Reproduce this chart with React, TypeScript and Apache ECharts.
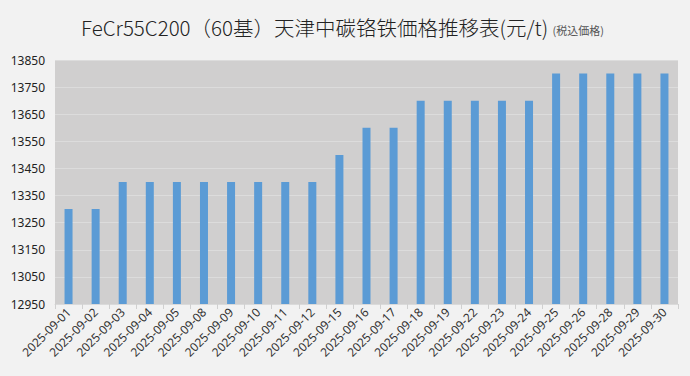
import React, { useEffect, useRef } from "react";
import * as echarts from "echarts";

const categories = [
  "2025-09-01", "2025-09-02", "2025-09-03", "2025-09-04", "2025-09-05",
  "2025-09-08", "2025-09-09", "2025-09-10", "2025-09-11", "2025-09-12",
  "2025-09-15", "2025-09-16", "2025-09-17", "2025-09-18", "2025-09-19",
  "2025-09-22", "2025-09-23", "2025-09-24", "2025-09-25", "2025-09-26",
  "2025-09-28", "2025-09-29", "2025-09-30",
];
const prices = [
  13300, 13300, 13400, 13400, 13400,
  13400, 13400, 13400, 13400, 13400,
  13500, 13600, 13600, 13700, 13700,
  13700, 13700, 13700, 13800, 13800,
  13800, 13800, 13800,
];
const yMin = 12950;
const yMax = 13850;
const yStep = 100;
const titleMain = "FeCr55C200（60基）天津中碳铬铁価格推移表(元/t)";
const titleSub = "(税込価格)";

export default function App() {
  const ref = useRef<HTMLDivElement>(null);
  useEffect(() => {
    document.body.style.margin = "0";
    const chart = echarts.init(ref.current!, null, { renderer: "svg" });
    chart.setOption({
      animation: false,
      backgroundColor: "#f2f2f2",
      textStyle: { fontFamily: "'Noto Sans CJK JP', 'Noto Sans', sans-serif" },
      title: {
        text: `{m|${titleMain}} {s|${titleSub}}`,
        left: 76,
        top: 12,
        textStyle: {
          fontWeight: "normal",
          rich: {
            m: { fontSize: 20.5, color: "#222", fontWeight: 300, fontFamily: "'Noto Sans CJK JP', sans-serif" },
            s: { fontSize: 11, color: "#555", fontWeight: "normal", fontFamily: "'Noto Sans CJK JP', sans-serif", padding: [5, 0, 0, 0] },
          },
        },
      },
      grid: {
        left: 55,
        right: 12,
        top: 60,
        bottom: 72,
        show: true,
        backgroundColor: "#d0cfcf",
        borderWidth: 0,
        containLabel: false,
      },
      xAxis: {
        type: "category",
        data: categories,
        axisLine: { show: true, lineStyle: { color: "#dadada", width: 1 } },
        axisTick: { show: true, length: 5, lineStyle: { color: "#d0d0d0" } },
        axisLabel: {
          rotate: 45,
          fontSize: 12,
          color: "#333",
          interval: 0,
          margin: 6,
          fontFamily: "'Noto Sans', sans-serif",
        },
      },
      yAxis: {
        type: "value",
        min: yMin,
        max: yMax,
        interval: yStep,
        axisLine: { show: false },
        axisTick: { show: false },
        axisLabel: {
          fontSize: 12,
          color: "#222",
          margin: 10,
          fontFamily: "'Noto Sans', sans-serif",
          formatter: (v: number) => String(v),
        },
        splitLine: { show: true, lineStyle: { color: "#dcdcdc", width: 1 } },
      },
      series: [
        {
          type: "bar",
          data: prices,
          barWidth: 8,
          itemStyle: { color: "#5b9bd5" },
        },
      ],
    });
    return () => chart.dispose();
  }, []);
  return <div ref={ref} style={{ width: 690, height: 376 }} />;
}
